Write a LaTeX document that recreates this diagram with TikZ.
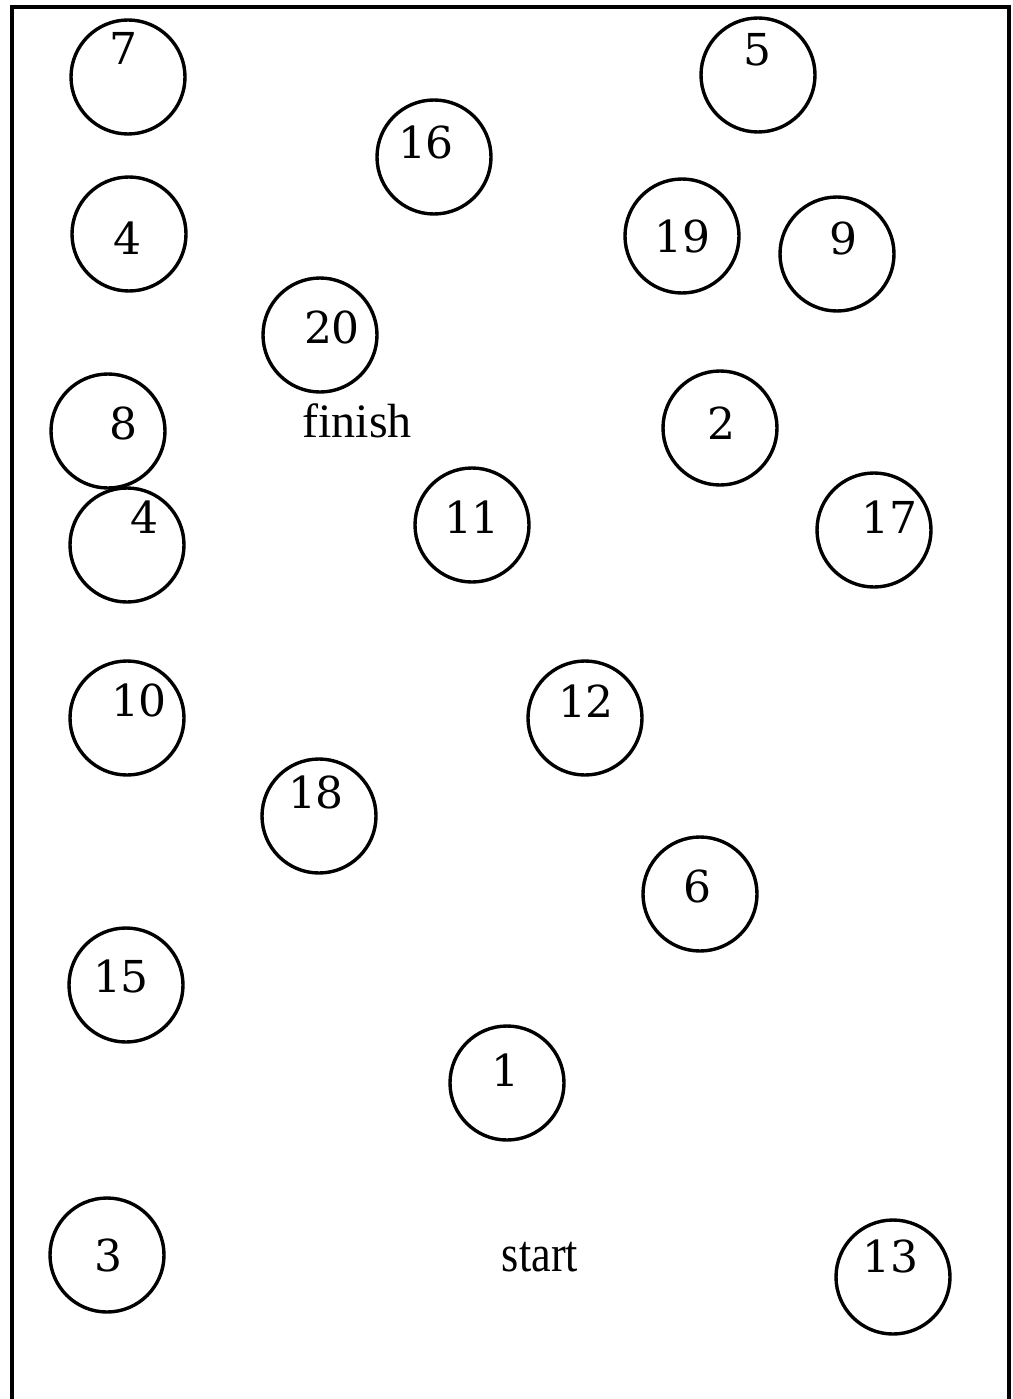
\documentclass[tikz,border=0pt]{standalone}
\usepackage{fontspec}
\newfontfamily\timesfont{Liberation Serif}
\newfontfamily\digitfont{DejaVu Serif}
\begin{document}
\begin{tikzpicture}[x=1pt,y=-1pt,
  ring/.style={circle,draw,line width=3.4pt,minimum size=114pt,inner sep=0pt},
  num/.style={inner sep=0pt,font=\digitfont\fontsize{44}{52}\selectfont},
  word/.style={inner sep=0pt,font=\timesfont\fontsize{48}{56}\selectfont}]
\useasboundingbox (0,0) rectangle (1012,1399);
\fill[white] (0,0) rectangle (1012,1399);
\draw[line width=3.5pt] (12,1399) coordinate (fbl) -- (12,7) coordinate (ftl) -- (1009,7) coordinate (ftr) -- (1009,1399) coordinate (fbr);
% circles
\node[ring] (c7)  at (128,77) {};
\node[ring] (c5)  at (758,75) {};
\node[ring] (c16) at (434,157) {};
\node[ring] (c4a) at (129,234) {};
\node[ring] (c19) at (682,236) {};
\node[ring] (c9)  at (837,254) {};
\node[ring] (c20) at (320,335) {};
\node[ring] (c8)  at (108,431) {};
\node[ring] (c2)  at (720,428) {};
\node[ring] (c4b) at (127,545) {};
\node[ring] (c11) at (472,525) {};
\node[ring] (c17) at (874,530) {};
\node[ring] (c10) at (127,718) {};
\node[ring] (c12) at (585,718) {};
\node[ring] (c18) at (319,816) {};
\node[ring] (c6)  at (700,894) {};
\node[ring] (c15) at (126,985) {};
\node[ring] (c1)  at (507,1083) {};
\node[ring] (c3)  at (107,1255) {};
\node[ring] (c13) at (893,1277) {};
% labels
\node[num] (l7)  at (123,48) {7};
\node[num] (l5)  at (757,50) {5};
\node[num] (l16) at (426,142) {16};
\node[num] (l4a) at (127,238) {4};
\node[num] (l19) at (682,236) {19};
\node[num] (l9)  at (843,238) {9};
\node[num] (l20) at (332,327) {20};
\node[num] (l8)  at (123,423) {8};
\node[num] (l2)  at (721,423) {2};
\node[num] (l4b) at (144,517) {4};
\node[num] (l11) at (472,517) {11};
\node[num] (l17) at (889,517) {17};
\node[num] (l10) at (139,700) {10};
\node[num] (l12) at (586,701) {12};
\node[num] (l18) at (316,792) {18};
\node[num] (l6)  at (697,886) {6};
\node[num] (l15) at (121,976) {15};
\node[num] (l1)  at (505,1070) {1};
\node[num] (l3)  at (108,1255) {3};
\node[num] (l13) at (890,1256) {13};
\node[word,anchor=base] (finish) at (357,437) {finish};
\node[word,anchor=base,xscale=0.85,font=\timesfont\fontsize{52}{60}\selectfont] (start) at (540,1271) {start};
\end{tikzpicture}
\end{document}
